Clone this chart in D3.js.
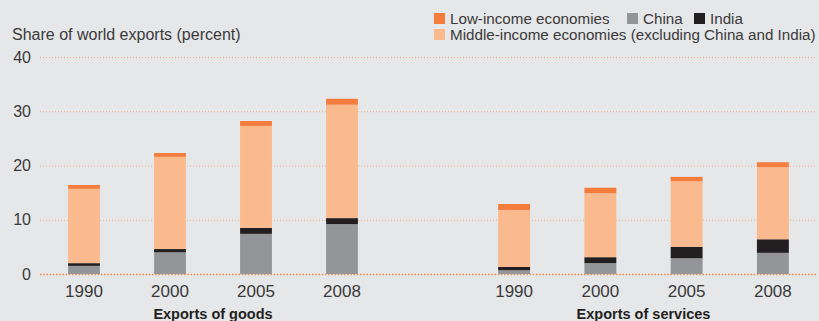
<!DOCTYPE html>
<html>
<head>
<meta charset="utf-8">
<script src="https://cdn.jsdelivr.net/npm/d3@7"></script>
<style>
  body { margin: 0; background: #e6e7e9; }
  svg { display: block; font-family: "Liberation Sans", Arial, sans-serif; }
</style>
</head>
<body>
<svg id="chart" width="819" height="321"></svg>
<script>
var BG = "#e6e7e9";
var TEXT_COLOR = "#3a3a3a";

// data
var years = ["1990", "2000", "2005", "2008"];
var groups = ["Exports of goods", "Exports of services"];
var seriesKeys = ["china", "india", "middle", "low"];
var seriesNames = {
  low: "Low-income economies",
  china: "China",
  india: "India",
  middle: "Middle-income economies (excluding China and India)"
};
var seriesColors = { china: "#939598", india: "#231f20", middle: "#fbb98e", low: "#f47c3c" };

var goodsChina  = [1.5, 4.0, 7.4, 9.2];
var goodsIndia  = [0.5, 0.6, 1.1, 1.1];
var goodsMiddle = [13.7, 17.0, 18.8, 20.9];
var goodsLow    = [0.7, 0.7, 0.9, 1.1];

var servChina  = [0.7, 2.0, 2.9, 3.9];
var servIndia  = [0.6, 1.1, 2.1, 2.5];
var servMiddle = [10.5, 11.8, 12.1, 13.3];
var servLow    = [1.1, 1.0, 0.8, 0.9];

var yTicks = [0, 10, 20, 30, 40];

// build rows
var rows = [];
years.forEach(function(y, i) {
  rows.push({ group: groups[0], year: y, china: goodsChina[i], india: goodsIndia[i], middle: goodsMiddle[i], low: goodsLow[i] });
});
years.forEach(function(y, i) {
  rows.push({ group: groups[1], year: y, china: servChina[i], india: servIndia[i], middle: servMiddle[i], low: servLow[i] });
});

var svg = d3.select("#chart");

var y = d3.scaleLinear().domain([0, 40]).range([274, 57]);

// one band scale per group
var xInner = {};
xInner[groups[0]] = d3.scaleBand().domain(years).range([41, 385]).paddingInner(0.63).paddingOuter(0.315);
xInner[groups[1]] = d3.scaleBand().domain(years).range([471, 816]).paddingInner(0.63).paddingOuter(0.315);

// gridlines
svg.append("g").selectAll("line")
  .data(yTicks)
  .enter().append("line")
  .attr("x1", 40).attr("x2", 817)
  .attr("y1", function(d) { return y(d) + 0.5; })
  .attr("y2", function(d) { return y(d) + 0.5; })
  .attr("stroke", function(d) { return d === 0 ? "#f58a4e" : "#f2a882"; })
  .attr("stroke-width", function(d) { return d === 0 ? 1.6 : 1; })
  .attr("stroke-dasharray", function(d) { return d === 0 ? "1.6,1.6" : "1,2"; });

// tick labels
svg.append("g").selectAll("text")
  .data(yTicks)
  .enter().append("text")
  .attr("x", 31)
  .attr("y", function(d) { return y(d) + 5.5; })
  .attr("text-anchor", "end")
  .attr("font-size", 16)
  .attr("fill", TEXT_COLOR)
  .text(function(d) { return d; });

svg.append("text")
  .attr("x", 12).attr("y", 40)
  .attr("font-size", 16)
  .attr("fill", TEXT_COLOR)
  .text("Share of world exports (percent)");

// stacked bars
var stack = d3.stack().keys(seriesKeys);
var stacked = stack(rows);

svg.append("g").selectAll("g")
  .data(stacked)
  .enter().append("g")
  .attr("fill", function(d) { return seriesColors[d.key]; })
  .selectAll("rect")
  .data(function(d) { return d; })
  .enter().append("rect")
  .attr("x", function(d) { return xInner[d.data.group](d.data.year); })
  .attr("width", function(d) { return xInner[d.data.group].bandwidth(); })
  .attr("y", function(d) { return y(d[1]); })
  .attr("height", function(d) { return y(d[0]) - y(d[1]); });

// year labels
svg.append("g").selectAll("text")
  .data(rows)
  .enter().append("text")
  .attr("x", function(d) { return xInner[d.group](d.year) + xInner[d.group].bandwidth() / 2; })
  .attr("y", 297)
  .attr("text-anchor", "middle")
  .attr("font-size", 17)
  .attr("fill", TEXT_COLOR)
  .text(function(d) { return d.year; });

// group labels
svg.append("g").selectAll("text")
  .data(groups)
  .enter().append("text")
  .attr("x", function(g) {
    var s = xInner[g];
    return (s(years[1]) + s(years[2]) + s.bandwidth()) / 2;
  })
  .attr("y", 319)
  .attr("text-anchor", "middle")
  .attr("font-size", 14.5)
  .attr("font-weight", "bold")
  .attr("fill", "#231f20")
  .text(function(g) { return g; });

// legend
var legendItems = [
  { key: "low", x: 434, y: 13 },
  { key: "china", x: 627, y: 13 },
  { key: "india", x: 694, y: 13 },
  { key: "middle", x: 434, y: 29 }
];
var legend = svg.append("g").selectAll("g")
  .data(legendItems)
  .enter().append("g")
  .attr("transform", function(d) { return "translate(" + d.x + "," + d.y + ")"; });
legend.append("rect")
  .attr("width", 11).attr("height", 11)
  .attr("fill", function(d) { return seriesColors[d.key]; });
legend.append("text")
  .attr("x", 16).attr("y", 11)
  .attr("font-size", 15.2)
  .attr("fill", TEXT_COLOR)
  .text(function(d) { return seriesNames[d.key]; });
</script>
</body>
</html>
